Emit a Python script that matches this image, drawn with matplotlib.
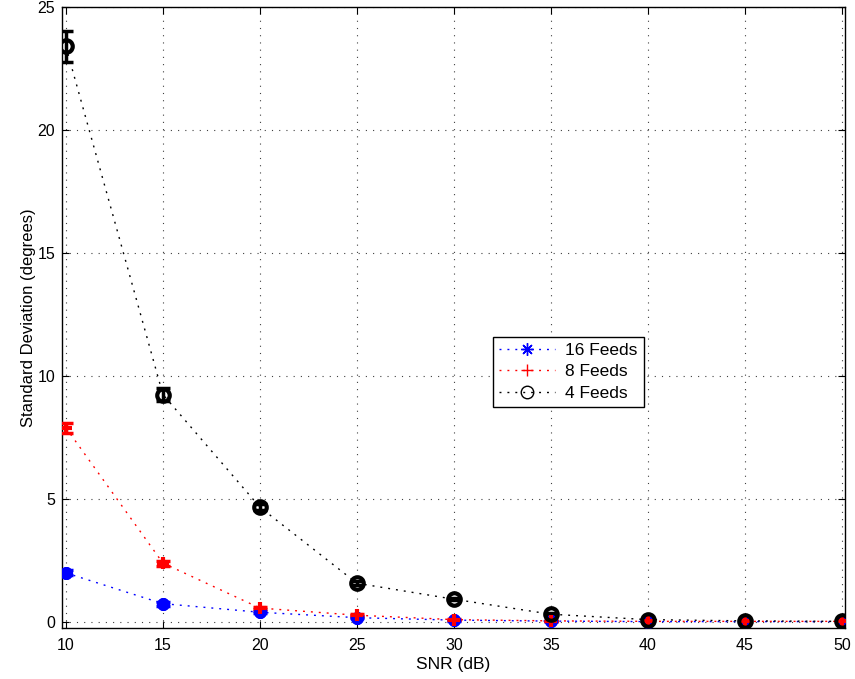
import numpy as np
import matplotlib
matplotlib.use("Agg")
import matplotlib.pyplot as plt

plt.rcParams['font.family'] = ['Liberation Sans', 'DejaVu Sans']

snr = [10, 15, 20, 25, 30, 35, 40, 45, 50]

std_16 = [2.0, 0.75, 0.4, 0.18, 0.08, 0.04, 0.02, 0.02, 0.02]
err_16 = [0.1, 0.08, 0.05, 0.03, 0.02, 0.01, 0.01, 0.01, 0.01]

std_8 = [7.9, 2.4, 0.57, 0.28, 0.1, 0.05, 0.03, 0.03, 0.03]
err_8 = [0.2, 0.1, 0.05, 0.04, 0.02, 0.01, 0.01, 0.01, 0.01]

std_4 = [23.4, 9.25, 4.67, 1.58, 0.93, 0.32, 0.1, 0.05, 0.03]
err_4 = [0.63, 0.25, 0.12, 0.08, 0.05, 0.03, 0.02, 0.01, 0.01]

asterisk = (8, 2, 0)
series = [
    ("16 Feeds", std_16, err_16, "blue", asterisk),
    ("8 Feeds", std_8, err_8, "red", "+"),
    ("4 Feeds", std_4, err_4, "black", "o"),
]

dotted = (0, (1.4, 4.3))

fig = plt.figure(figsize=(8.55, 6.79), dpi=100)
ax = fig.add_axes([0.0725, 0.0751, 0.9158, 0.9146])

handles = []
for label, y, e, color, marker in series:
    ax.errorbar(snr, y, yerr=e, fmt="none", ecolor=color, elinewidth=2.5,
                capsize=5, capthick=2.5, zorder=3)
    ax.plot(snr, y, linestyle=dotted, color=color, linewidth=1.0, zorder=2)
    ax.plot(snr, y, linestyle="none", marker=marker, color=color,
            markersize=9, markeredgewidth=3, markerfacecolor="none", zorder=4)
    h, = ax.plot([], [], linestyle=dotted, color=color, linewidth=1.0,
                 marker=marker, markersize=9, markeredgewidth=1,
                 markerfacecolor="none", label=label)
    handles.append(h)

ax.set_xlim(9.8, 50.15)
ax.set_ylim(-0.24, 25)
ax.set_xticks(np.arange(10, 51, 5))
ax.set_yticks(np.arange(0, 26, 5))
ax.grid(True, linestyle=(0, (1, 5.5)), color="0.25", linewidth=0.8)
ax.tick_params(direction="in", length=5, labelsize=11.5, top=True, right=True,
               labeltop=False, labelright=False)
ax.tick_params(axis="x", pad=7)
ax.tick_params(axis="y", pad=5)
for s in ax.spines.values():
    s.set_linewidth(1.0)

ax.set_xlabel("SNR (dB)", fontsize=12.5, labelpad=3)
ax.set_ylabel("Standard Deviation (degrees)", fontsize=12, labelpad=1)

leg = ax.legend(handles=handles, loc="upper left",
                bbox_to_anchor=(0.5505, 0.4686), borderaxespad=0,
                fontsize=12.5, fancybox=False, framealpha=1,
                edgecolor="black", handlelength=3.2, handletextpad=0.6,
                borderpad=0.35, labelspacing=0.35)
leg.get_frame().set_linewidth(1.0)

plt.savefig("out.png", dpi=100)
